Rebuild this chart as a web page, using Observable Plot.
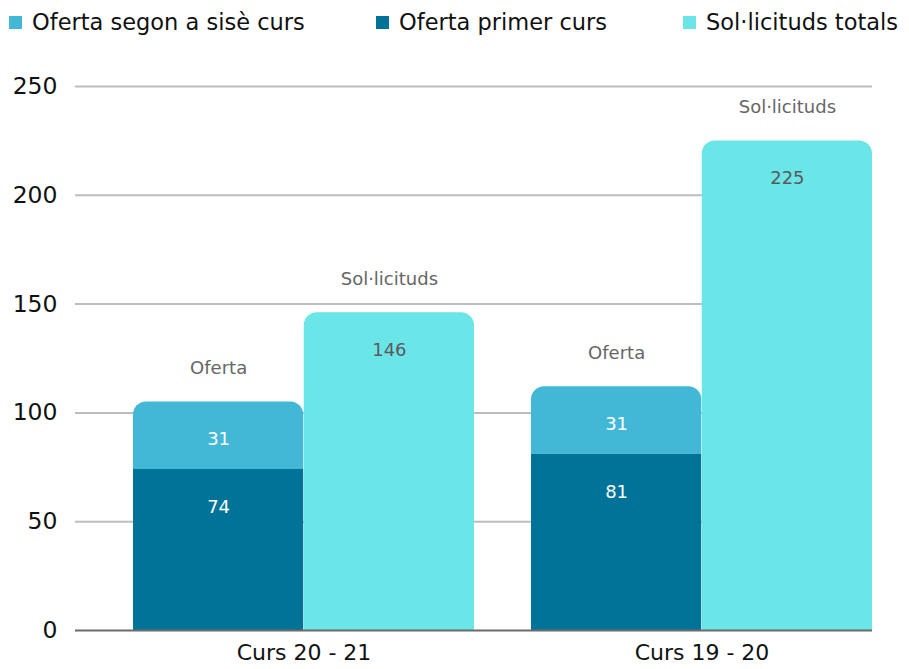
<!DOCTYPE html>
<html>
<head>
<meta charset="utf-8">
<script src="https://cdn.jsdelivr.net/npm/d3@7"></script>
<script src="https://cdn.jsdelivr.net/npm/@observablehq/plot@0.6"></script>
<style>
  html, body { margin: 0; padding: 0; background: #fff; }
  body { width: 909px; height: 669px; position: relative; overflow: hidden; font-family: "DejaVu Sans", sans-serif; }
  #legend { position: absolute; left: 0; top: 0; width: 909px; height: 50px; }
  .item { position: absolute; top: 9px; display: flex; align-items: center; font-size: 22.5px; color: #111; white-space: nowrap; }
  .sw { width: 13px; height: 13px; margin-right: 10px; }
  #chart { position: absolute; left: 0; top: 50px; }
</style>
</head>
<body>
<div id="legend"></div>
<div id="chart"></div>
<script>
// ---- data ----
const courses = ["Curs 20 - 21", "Curs 19 - 20"];
const ofertaPrimer = [74, 81];
const ofertaSegon = [31, 31];
const solTotals = [146, 225];
const legendLabels = ["Oferta segon a sisè curs", "Oferta primer curs", "Sol·licituds totals"];
const groupLabels = ["Oferta", "Sol·licituds"];
const yTicks = [0, 50, 100, 150, 200, 250];

// ---- styles ----
const colors = { segon: "#42b8d6", primer: "#017398", sol: "#6ae5e8" };
const legendColors = [colors.segon, colors.primer, colors.sol];
const legendX = [9, 376, 683];

const legend = document.getElementById("legend");
legendLabels.forEach((t, i) => {
  const el = document.createElement("div");
  el.className = "item";
  el.style.left = legendX[i] + "px";
  el.innerHTML = `<span class="sw" style="background:${legendColors[i]}"></span><span>${t}</span>`;
  legend.appendChild(el);
});

const rows = courses.map((c, i) => ({
  course: c,
  primer: ofertaPrimer[i],
  segon: ofertaSegon[i],
  total: ofertaPrimer[i] + ofertaSegon[i],
  sol: solTotals[i]
}));

const W = 909, H = 619;
const mL = 75, mR = 37, mT = 36, mB = 39;
const pInner = 0.143, pOuter = pInner / 2;
const step = (W - mL - mR) / (courses.length - pInner + 2 * pOuter);
const bw = step * (1 - pInner);
const half = bw / 2;
const q = bw / 4;
const font = "DejaVu Sans, sans-serif";

const chart = Plot.plot({
  width: W,
  height: H,
  marginLeft: mL,
  marginRight: mR,
  marginTop: mT,
  marginBottom: mB,
  style: { fontFamily: font, background: "transparent" },
  x: { domain: courses, paddingInner: pInner, paddingOuter: pOuter, align: 1, label: null },
  y: { domain: [0, 250], label: null },
  marks: [
    Plot.ruleY(yTicks.filter(d => d > 0), { stroke: "#bdbdbd", strokeWidth: 2 }),
    // Oferta: rounded upper segment (segon) then primer segment
    Plot.barY(rows, { x: "course", y1: "primer", y2: "total", fill: colors.segon, insetRight: half, ry1: 13 }),
    Plot.barY(rows, { x: "course", y1: 0, y2: "primer", fill: colors.primer, insetRight: half }),
    // Sol·licituds
    Plot.barY(rows, { x: "course", y1: 0, y2: "sol", fill: colors.sol, insetLeft: half, ry1: 13 }),
    Plot.ruleY([0], { stroke: "#6b6b6b", strokeWidth: 2 }),
    // value labels
    Plot.text(rows, { x: "course", y: "total", text: d => String(d.segon), dx: -q, dy: 37, fill: "white", fontSize: 18 }),
    Plot.text(rows, { x: "course", y: "primer", text: d => String(d.primer), dx: -q, dy: 38, fill: "white", fontSize: 18 }),
    Plot.text(rows, { x: "course", y: "sol", text: d => String(d.sol), dx: q, dy: 37, fill: "#5a5a5a", fontSize: 18 }),
    // group labels
    Plot.text(rows, { x: "course", y: "total", text: () => groupLabels[0], dx: -q, dy: -34, fill: "#666", fontSize: 18 }),
    Plot.text(rows, { x: "course", y: "sol", text: () => groupLabels[1], dx: q, dy: -34, fill: "#666", fontSize: 18 }),
    Plot.axisY({ ticks: yTicks, tickSize: 0, tickPadding: 18, fontSize: 23.5, fill: "#111", label: null }),
    Plot.axisX({ tickSize: 0, tickPadding: 14, fontSize: 22, fill: "#111", label: null })
  ]
});
document.getElementById("chart").appendChild(chart);
</script>
</body>
</html>
